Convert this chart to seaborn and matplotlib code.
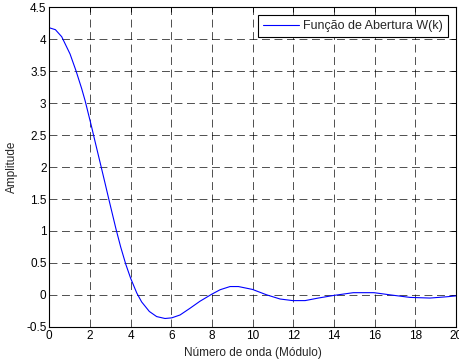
import matplotlib
matplotlib.use("Agg")
import matplotlib.pyplot as plt
import seaborn as sns
import pandas as pd

# Data
k_values = [0.0, 0.3, 0.61, 1.02, 1.31, 1.59, 1.76, 2.08, 2.25, 2.53, 2.74, 2.94,
            3.28, 3.51, 3.76, 4.0, 4.30, 4.54, 4.92, 5.28, 5.69, 6.02, 6.43, 6.92,
            7.41, 7.99, 8.40, 8.89, 9.30, 9.99, 10.69, 11.35, 11.97, 12.58, 13.23,
            13.97, 14.95, 15.97, 16.76, 17.74, 18.72, 19.55, 20.0]
w_values = [4.18, 4.15, 4.04, 3.77, 3.51, 3.23, 3.04, 2.63, 2.40, 2.03, 1.75, 1.48,
            1.03, 0.75, 0.48, 0.26, 0.03, -0.11, -0.26, -0.34, -0.37, -0.36, -0.315, -0.21,
            -0.10, 0.01, 0.08, 0.13, 0.13, 0.085, 0.0, -0.065, -0.09, -0.09, -0.05,
            -0.01, 0.034, 0.034, 0.0, -0.04, -0.05, -0.03, -0.016]
x_ticks = [0, 2, 4, 6, 8, 10, 12, 14, 16, 18, 20]
y_ticks = [-0.5, 0, 0.5, 1, 1.5, 2, 2.5, 3, 3.5, 4, 4.5]
series_label = "Função de Abertura W(k)"
x_label = "Número de onda (Módulo)"
y_label = "Amplitude"

sns.set_style("white")
plt.rcParams["font.family"] = ["Liberation Sans", "DejaVu Sans"]
plt.rcParams["axes.unicode_minus"] = False
plt.rcParams["font.size"] = 8.5

df = pd.DataFrame({"k": k_values, "W": w_values, "serie": series_label})

fig = plt.figure(figsize=(4.59, 3.64), dpi=100)
ax = fig.add_axes([0.1074, 0.1022, 0.886, 0.8777])

sns.lineplot(data=df, x="k", y="W", hue="serie", palette=["#0000ff"],
             sort=False, estimator=None, linewidth=0.8, ax=ax)

ax.set_xlim(0, 20)
ax.set_ylim(-0.5, 4.5)
ax.set_xticks(x_ticks)
ax.set_xticklabels([f"{t:g}" for t in x_ticks])
ax.set_yticks(y_ticks)
ax.set_yticklabels([f"{t:g}" for t in y_ticks])
ax.set_xlabel(x_label, fontsize=8.5, labelpad=4)
ax.set_ylabel(y_label, fontsize=8.5, labelpad=6)

ax.grid(True, color="black", linestyle=(0, (9.5, 5.5)), linewidth=0.6, alpha=0.8)
ax.tick_params(direction="in", length=3.5, width=0.6, top=True, right=True,
               labelsize=8.5, pad=2, colors="black")
for s in ax.spines.values():
    s.set_visible(True)
    s.set_color("black")
    s.set_linewidth(0.8)

leg = ax.legend(loc="upper right", frameon=True, fancybox=False, fontsize=9,
                handlelength=2.9, borderpad=0.4, borderaxespad=0.65,
                handletextpad=0.3)
leg.get_frame().set_edgecolor("black")
leg.get_frame().set_linewidth(0.8)
leg.get_frame().set_alpha(1.0)
for h in leg.get_lines():
    h.set_linewidth(0.8)

fig.savefig("out.png", dpi=100)
